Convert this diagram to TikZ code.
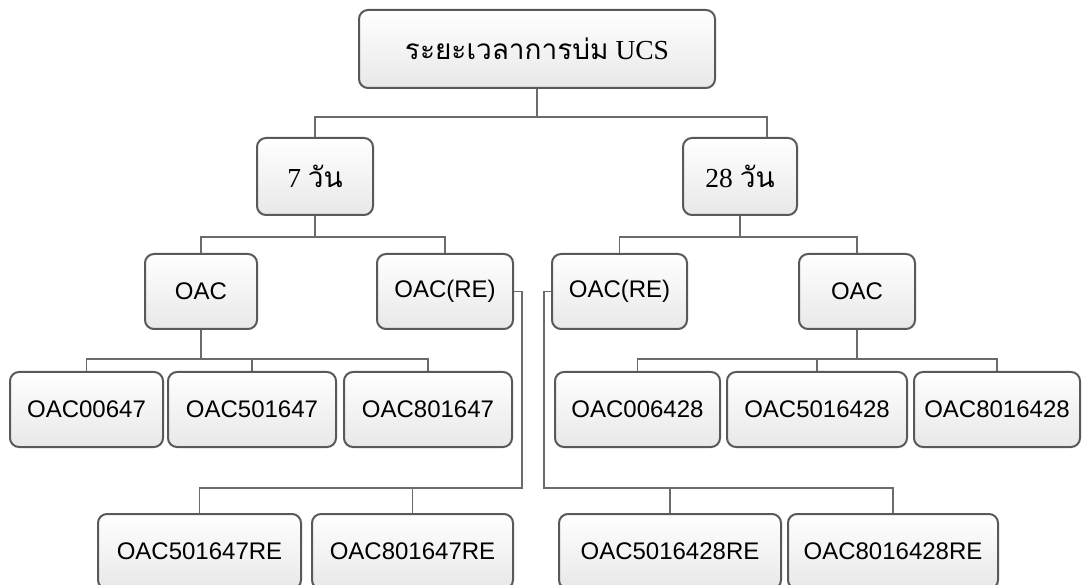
\documentclass[tikz,border=0pt]{standalone}
\usepackage{fontspec}
\setmainfont{Liberation Serif}
\newfontfamily\thaifont[Script=Thai]{Loma}
\newfontfamily\labelsans{Liberation Sans}
\newcommand{\thaitext}[1]{{\thaifont\fontsize{28}{32}\selectfont #1}}
\begin{document}
\begin{tikzpicture}[x=1pt,y=-1pt,
  box/.style={draw=black!65, line width=2pt, rounded corners=9pt,
    top color=white, bottom color=black!9, inner sep=0pt,
    minimum height=75pt},
  thaibox/.style={box, font=\fontsize{27.5}{31}\selectfont},
  codebox/.style={box, font=\labelsans\fontsize{24}{28}\selectfont},
  conn/.style={draw=black!58, line width=1.3pt}]
\clip (0,0) rectangle (1082,585);

% level 0
\node[thaibox, minimum width=356pt, minimum height=78pt] (top) at (537,49)
  {\thaitext{ระยะเวลาการบ่ม} UCS};

% level 1: curing time
\node[thaibox, minimum width=116pt, minimum height=77pt] (d7) at (315,176.5)
  {7 \thaitext{วัน}};
\node[thaibox, minimum width=114pt, minimum height=77pt] (d28) at (740,176.5)
  {28 \thaitext{วัน}};

% level 2
\node[codebox, minimum width=112pt] (oac7) at (201,291.5) {OAC};
\node[codebox, minimum width=136pt] (re7) at (445,291.5) {OAC(RE)};
\node[codebox, minimum width=135pt] (re28) at (619.5,291.5) {OAC(RE)};
\node[codebox, minimum width=116pt] (oac28) at (857,291.5) {OAC};

% level 3: mixes
\node[codebox, minimum width=153pt] (a1) at (86.5,409.5) {OAC00647};
\node[codebox, minimum width=168pt] (a2) at (252,409.5) {OAC501647};
\node[codebox, minimum width=168pt] (a3) at (428,409.5) {OAC801647};
\node[codebox, minimum width=165pt] (b1) at (637.5,409.5) {OAC006428};
\node[codebox, minimum width=180pt] (b2) at (817,409.5) {OAC5016428};
\node[codebox, minimum width=166pt] (b3) at (997,409.5) {OAC8016428};

% level 4: recycled mixes
\node[codebox, minimum width=203pt] (r1) at (199.5,551.5) {OAC501647RE};
\node[codebox, minimum width=201pt] (r2) at (412.5,551.5) {OAC801647RE};
\node[codebox, minimum width=222pt] (s1) at (670,551.5) {OAC5016428RE};
\node[codebox, minimum width=210pt] (s2) at (893,551.5) {OAC8016428RE};

% bus points
\coordinate (busTop) at (537,117);
\coordinate (bus7) at (315,237);
\coordinate (bus28) at (740,237);
\coordinate (busL) at (201,359);
\coordinate (busR) at (857,359);
\coordinate (elbowL) at (522,488);
\coordinate (elbowR) at (544,488);

% connectors
\draw[conn] (top.south) -- (busTop);
\draw[conn] (d7.north) |- (busTop) -| ([xshift=27pt]d28.north);

\draw[conn] (d7.south) -- (bus7);
\draw[conn] (oac7.north) |- (bus7) -| (re7.north);
\draw[conn] (d28.south) -- (bus28);
\draw[conn] (re28.north) |- (bus28) -| (oac28.north);

\draw[conn] (oac7.south) -- (busL);
\draw[conn] (a1.north) |- (busL) -| (a3.north);
\draw[conn] (a2.north) -- (a2.north |- busL);

\draw[conn] (oac28.south) -- (busR);
\draw[conn] (b1.north) |- (busR) -| (b3.north);
\draw[conn] (b2.north) -- (b2.north |- busR);

\draw[conn] (re7.east) -| (elbowL) -| (r1.north);
\draw[conn] (r2.north) -- (r2.north |- elbowL);
\draw[conn] (re28.west) -| (elbowR) -| (s2.north);
\draw[conn] (s1.north) -- (s1.north |- elbowR);
\end{tikzpicture}
\end{document}
